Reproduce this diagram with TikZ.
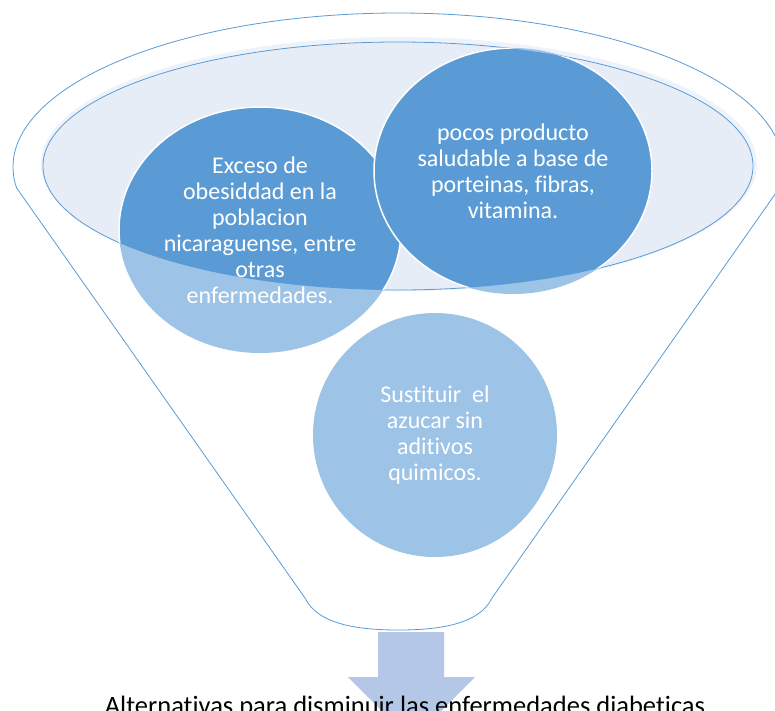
\documentclass[tikz,border=0pt]{standalone}
\usepackage{fontspec}
\setmainfont{Carlito}[Ligatures={NoCommon}]
\usepackage{tikz}
\usetikzlibrary{shapes.geometric}

\definecolor{funnelblue}{HTML}{5B9BD5}
\definecolor{paleblue}{HTML}{9DC3E6}
\definecolor{rimfill}{HTML}{E7EDF7}
\definecolor{rimglow}{HTML}{EEF2FA}
\definecolor{arrowblue}{HTML}{B4C7E7}

\begin{document}
\begin{tikzpicture}[x=1pt,y=-1pt]

        \tikzstyle{every node}=[font=\fontsize{24}{26}\selectfont, text=white, align=center]
        \tikzstyle{bubble}=[ellipse, inner sep=0pt]
        \tikzstyle{funnel line}=[draw=funnelblue, line width=0.8pt]

        % Page frame
        \clip (0,0) rectangle (775,710);
        \fill[white] (0,0) rectangle (775,710);

        % Define centres of the rim and the bubbles
        \coordinate (rim) at (398,166);
        \coordinate (exceso c) at (260,230);
        \coordinate (pocos c) at (513,171);
        \coordinate (sustituir c) at (435,435);

        % Draw the funnel
        \draw[funnel line] (16.6,187.9) arc[start angle=172.2, end angle=367.8, x radius=385, y radius=154]
            -- (492,598) .. controls (479,625) and (437,630) .. (398.5,630)
            .. controls (360,630) and (318,625) .. (305,598) -- cycle;

        % Draw the rim of the funnel
        \fill[rimglow] (399,164) ellipse[x radius=358, y radius=127];
        \fill[rimfill] (rim) ellipse[x radius=355, y radius=124];
        \draw[funnel line] (rim) ellipse[x radius=355, y radius=124];

        % Pale bubbles (part outside the rim)
        \fill[paleblue] (exceso c) ellipse[x radius=141, y radius=123];
        \fill[paleblue] (pocos c) ellipse[x radius=139, y radius=123];
        \fill[paleblue] (sustituir c) circle (122);

        % Dark bubbles (part inside the rim)
        \begin{scope}
            \clip (rim) ellipse[x radius=355, y radius=124];
            \filldraw[fill=funnelblue, draw=white, line width=1.5pt] (exceso c) ellipse[x radius=141, y radius=123];
            \filldraw[fill=funnelblue, draw=white, line width=1.5pt] (pocos c) ellipse[x radius=139, y radius=123];
        \end{scope}

        % Draw the arrow
        \fill[arrowblue] (378,632) -- (444,632) -- (444,677) -- (475,677) -- (411.5,741)
            -- (348,677) -- (378,677) -- cycle;

        % Add labels
        \node[bubble] (exceso) at (exceso c) {Exceso de\\obesiddad en la\\poblacion\\nicaraguense, entre\\otras\\enfermedades.};
        \node[bubble] (pocos) at (pocos c) {pocos producto\\saludable a base de\\porteinas, fibras,\\vitamina.};
        \node[bubble] (sustituir) at (sustituir c) {Sustituir\ \ el\\azucar sin\\aditivos\\quimicos.};
        \node[anchor=base, text=black, font=\fontsize{26.5}{30}\selectfont] (caption) at (405,714) {Alternativas para disminuir las enfermedades diabeticas};
    \end{tikzpicture}
\end{document}
